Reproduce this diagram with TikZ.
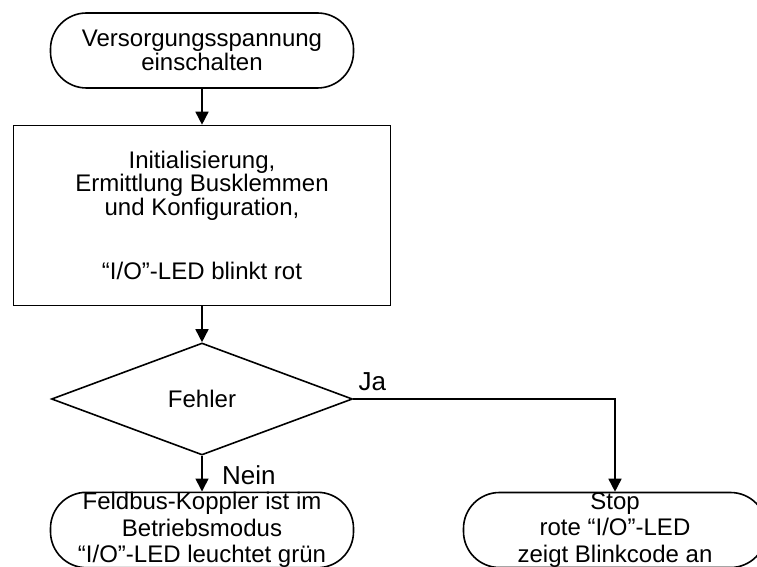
\documentclass[tikz,border=0pt]{standalone}
\usepackage{fontspec}
\setmainfont{Liberation Sans}
\usetikzlibrary{shapes.geometric,arrows.meta,positioning}
\tikzset
{
    startstop/.style = {rectangle, rounded corners=36pt, draw=black, line width=1.6pt, minimum width=303pt, minimum height=75pt, align=center, inner sep=0pt, font=\fontsize{24}{26.5}\selectfont},
    process/.style   = {rectangle, draw=black, line width=1.6pt, minimum width=377pt, minimum height=180pt, align=center, inner sep=0pt, font=\fontsize{24}{22}\selectfont},
    decision/.style  = {diamond, draw=black, line width=1.6pt, minimum width=301pt, minimum height=112pt, inner sep=0pt, font=\fontsize{24}{24}\selectfont},
    arrow/.style     = {line width=1.6pt, -{Triangle[length=13pt,width=13pt]}},
    answer/.style    = {anchor=base west, inner sep=0pt, font=\fontsize{26}{26}\selectfont}
}

\begin{document}
\begin{tikzpicture}[x=1pt,y=1pt]
\useasboundingbox (0,0) rectangle (757,566);
\clip (0,0) rectangle (757,566);
\newcommand\mainX{202}
\newcommand\stopX{615}
\node(on) [startstop, font=\fontsize{24}{24.5}\selectfont] at (\mainX, 515.5) {Versorgungsspannung\\einschalten};
\node(init) [process] at (\mainX, 350.5) {Initialisierung,\\Ermittlung Busklemmen\\und Konfiguration,\\[41pt]“I/O”-LED blinkt rot};
\node(err) [decision] at (\mainX, 167) {Fehler};
\node(run) [startstop] at (\mainX, 36) {Feldbus-Koppler ist im\\Betriebsmodus\\“I/O”-LED leuchtet grün};
\node(stop) [startstop] at (\stopX, 36) {Stop\\rote “I/O”-LED\\zeigt Blinkcode an};
\draw[arrow] (on) -- (init);
\draw[arrow] (init) -- (err);
\draw[arrow] (err) -- (run);
\draw[arrow] (err.east) -| (stop.north);
\node(ja) [answer] at ([shift={(5pt,9pt)}]err.east) {Ja};
\node(nein) [answer] at ([shift={(20pt,-29pt)}]err.south) {Nein};
\end{tikzpicture}
\end{document}
